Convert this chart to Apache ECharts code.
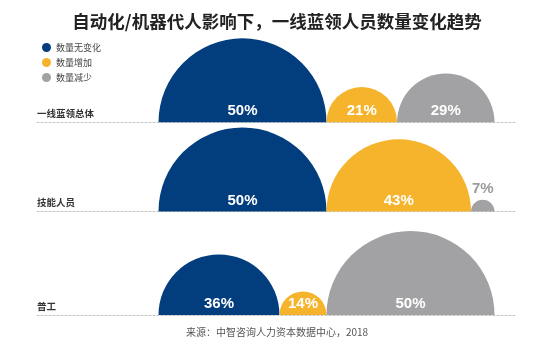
<!DOCTYPE html>
<html><head><meta charset="utf-8">
<script src="https://cdn.jsdelivr.net/npm/echarts@6/dist/echarts.min.js"></script>
<style>html,body{margin:0;padding:0;background:#fff}#c{width:554px;height:339px}</style>
</head><body><div id="c"></div>
<script>
// ---- data ----
const title = '自动化/机器代人影响下，一线蓝领人员数量变化趋势';
const source = '来源：中智咨询人力资本数据中心，2018';
const rows = ['一线蓝领总体', '技能人员', '普工'];
const categories = ['数量无变化', '数量增加', '数量减少'];
const unchanged = [50, 50, 36];
const increased = [21, 43, 14];
const decreased = [29, 7, 50];

// ---- layout / style ----
const colors = ['#023d7e', '#f6b42c', '#a2a1a3'];
const baselines = [122.3, 211.5, 315];
const lineLeft = 37, lineRight = 517;      // dashed baseline extent (px)
const plotLeft = 158.5, plotRight = 494.5; // 0..100 extent (px)
const W = 554;
const pxPerUnit = (plotRight - plotLeft) / 100;
const xMin = -(plotLeft - lineLeft) / pxPerUnit;
const xMax = 100 + (lineRight - plotRight) / pxPerUnit;

const seriesValues = [unchanged, increased, decreased];
const chart = echarts.init(document.getElementById('c'), null, {renderer: 'canvas'});

const grids = [], xAxes = [], yAxes = [], series = [];
rows.forEach((row, r) => {
  grids.push({left: lineLeft, right: W - lineRight, top: baselines[r] - 100, height: 100});
  xAxes.push({type: 'value', gridIndex: r, min: xMin, max: xMax,
    axisLine: {show: true, lineStyle: {color: '#c2c2c2', width: 1, type: [2, 2]}},
    axisTick: {show: false}, axisLabel: {show: false}, splitLine: {show: false}});
  yAxes.push({type: 'value', gridIndex: r, min: 0, max: 1, show: false});
  let acc = 0;
  categories.forEach((cat, c) => {
    const v = seriesValues[c][r];
    const start = acc; acc += v;
    series.push({
      type: 'custom', name: cat, xAxisIndex: r, yAxisIndex: r,
      itemStyle: {color: colors[c]},
      data: [[start, start + v, v]],
      renderItem: function (params, api) {
        const s = api.value(0), e = api.value(1), val = api.value(2);
        const p1 = api.coord([s, 0]), p2 = api.coord([e, 0]);
        const rad = (p2[0] - p1[0]) / 2, cx = (p1[0] + p2[0]) / 2, cy = p1[1];
        const inside = val >= 10;
        const children = [
          {type: 'sector', shape: {cx: cx, cy: cy, r0: 0, r: rad, startAngle: Math.PI, endAngle: 2 * Math.PI},
            style: {fill: api.visual('color')}},
          {type: 'text', z2: 10, style: {text: val + '%', x: cx, y: inside ? cy - 11 : cy - rad - 11,
            align: 'center', verticalAlign: 'middle', fill: inside ? '#ffffff' : '#9c9c9c',
            fontSize: 15, fontWeight: 'bold', fontFamily: '"Liberation Sans", Arial, sans-serif'}}
        ];
        if (c === 0) {
          const left = api.coord([xMin, 0]);
          children.push({type: 'text', style: {text: row, x: left[0], y: cy - 9, align: 'left', verticalAlign: 'middle',
            fill: '#333', fontSize: 9.5, fontWeight: 'bold', fontFamily: '"Noto Sans CJK SC", sans-serif'}});
        }
        return {type: 'group', children: children};
      }
    });
  });
});

chart.setOption({
  animation: false,
  title: [
    {text: title, left: 'center', top: 8,
      textStyle: {fontSize: 17.5, fontWeight: 'bold', color: '#222', fontFamily: '"Noto Sans CJK SC", sans-serif'}},
    {text: source, left: 'center', top: 322,
      textStyle: {fontSize: 10, fontWeight: 'normal', color: '#555', fontFamily: '"Noto Sans CJK SC", sans-serif'}}
  ],
  legend: {data: categories, orient: 'vertical', left: 37, top: 38, icon: 'circle',
    itemWidth: 9, itemHeight: 9, itemGap: 6, selectedMode: false,
    textStyle: {fontSize: 9, color: '#444', fontFamily: '"Noto Sans CJK SC", sans-serif'}},
  grid: grids, xAxis: xAxes, yAxis: yAxes, series: series
});
</script></body></html>
